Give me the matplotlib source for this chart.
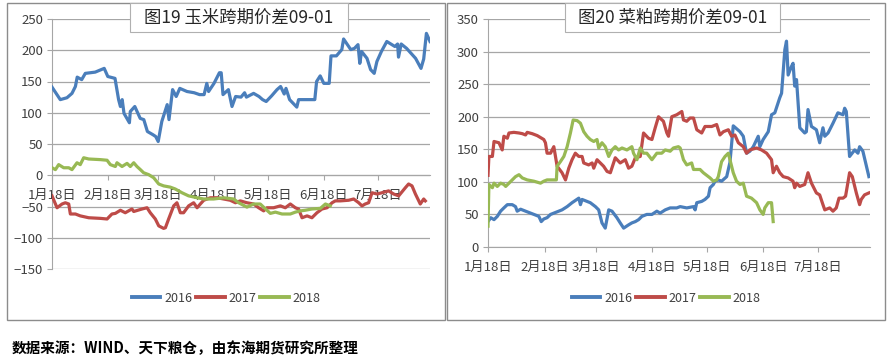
import matplotlib
matplotlib.use('Agg')
import matplotlib.pyplot as plt
from matplotlib.patches import Rectangle
from matplotlib.lines import Line2D

plt.rcParams['font.family'] = ['Noto Sans CJK SC', 'DejaVu Sans']

#%% data (x = days after Jan 18)
tick_days = [0, 31, 59, 90, 120, 151, 181]
tick_labels = ['1月18日', '2月18日', '3月18日', '4月18日', '5月18日', '6月18日', '7月18日']
years = ['2016', '2017', '2018']
colors = ['#4A7EBB', '#BE4B48', '#98B954']

# 图19 玉米
corn_2016_x = [0, 4.6, 8.3, 11.1, 13, 14, 16.5, 18.5, 24, 29, 31, 35, 37, 38, 39, 40, 43, 43.5, 46, 49,
               51, 53, 56, 57.6, 59, 61, 64, 65, 67, 69, 71, 75, 79, 82, 84.5, 86, 87, 90, 93, 94,
               95, 98, 100, 102, 105, 107, 108, 112, 115, 117, 119, 122, 125, 127, 129, 130, 132, 136, 137, 146,
               147, 149, 151, 154, 155, 158, 161, 162, 166, 168, 170, 171, 172, 175, 177, 179, 180.5, 183, 186, 190.5,
               192, 192.5, 194, 197, 202, 205, 206.5, 208, 210]
corn_2016_y = [141, 121, 124, 131, 142, 157, 153, 163, 165, 171, 158, 155, 121, 110, 121, 99, 84, 102, 110, 91,
               89, 70, 65, 62, 54, 86, 113, 89, 137, 126, 139, 134, 132, 129, 129, 147, 134, 147, 164, 164,
               129, 137, 110, 126, 125, 132, 125, 131, 126, 121, 118, 127, 137, 142, 130, 139, 121, 109, 121, 121,
               150, 159, 147, 147, 191, 191, 201, 218, 201, 203, 209, 179, 198, 187, 169, 163, 182, 198, 214, 206,
               210, 189, 210, 203, 187, 171, 186, 227, 214]

corn_2017_x = [0, 2.8, 5.6, 7.4, 9.3, 10.2, 13, 15.7, 20.4, 26.9, 30.6, 33.3, 35.2, 38, 40.7, 44.4, 45.4, 50, 52.8, 54.6,
               57.4, 59.3, 62, 63, 64.8, 67.6, 69.4, 71.3, 73.1, 75.9, 78.7, 80.6, 82.4, 84.3, 88, 91.7, 95.4, 99, 101.9, 104.6,
               108.3, 112, 114.8, 117.6, 119.4, 123.1, 126.9, 129.6, 132.4, 135.2, 137, 138.9, 141.7, 144.4, 147.2, 150, 152.8, 155.6, 157.4, 160.2,
               164.8, 167.6, 170.4, 172.2, 174, 175.9, 177.8, 180.6, 183.3, 187, 189.8, 192.6, 196.3, 198.1, 200, 201.9, 204.6, 206.5, 207.4]
corn_2017_y = [-33, -52, -46, -44, -46, -62, -62, -65, -68, -69, -70, -62, -61, -56, -60, -54, -58, -54, -52, -60,
               -70, -81, -85, -84, -70, -49, -44, -60, -60, -49, -44, -52, -46, -40, -36, -36, -38, -40, -44, -41,
               -44, -46, -52, -57, -52, -52, -49, -52, -46, -52, -54, -68, -65, -68, -60, -54, -52, -44, -41, -41,
               -40, -38, -44, -49, -46, -44, -28, -30, -28, -25, -30, -33, -20, -14, -17, -30, -46, -38, -41]

corn_2018_x = [0, 1.9, 3.7, 6.5, 9.3, 11.1, 13.9, 15.7, 17.6, 20.4, 26.9, 30.6, 32.4, 35.2, 36.1, 38.9, 41.7, 43.5, 45.4, 47.2,
               49.1, 50.9, 53.7, 56.5, 59.3, 62, 65.7, 68.5, 72.2, 75.9, 80.6, 84.3, 89.8, 95.4, 100.9, 103.7, 108.3, 112, 115.7, 119.4,
               121.3, 124.1, 127.8, 132.4, 135.2, 138, 140.7, 144.4, 149.1, 151.9, 154.6]
corn_2018_y = [12, 9, 17, 12, 12, 9, 20, 17, 28, 26, 25, 24, 17, 14, 20, 14, 19, 14, 20, 14,
               9, 4, 1, -4, -14, -17, -19, -22, -28, -33, -36, -38, -38, -36, -38, -44, -51, -46, -46, -56,
               -61, -59, -62, -62, -59, -57, -56, -54, -53, -46, -49]

# 图20 菜粕
meal_2016_x = [0, 1.5, 3.3, 5.1, 6.9, 8.7, 10.6, 13.3, 15.1, 16, 17.9, 20.6, 25.2, 27.9, 29.2, 30.6, 32.4, 34.3, 36.1, 38.8,
               40.6, 43.4, 46.1, 49.8, 50.7, 51.6, 54.3, 56.1, 58.9, 60.7, 62.5, 64.3, 66.2, 68, 70.7, 72.5, 74.4, 77.1, 78.9, 80.8,
               82.6, 84.4, 87.1, 89.9, 92.6, 94.4, 97.2, 99.9, 103.5, 105.4, 109, 112.7, 113.6, 114.5, 117.2, 119, 120.9, 121.8, 123.6, 124.5,
               126.3, 128.1, 130.9, 132.7, 134.5, 138.2, 140, 141.8, 143.6, 145.5, 148.2, 149.1, 150.9, 153.7, 155.5, 157.3, 160, 161, 162.8, 163.7,
               164.6, 166.4, 167.3, 168.2, 169.2, 171, 173.7, 174.6, 175.5, 177.4, 180.1, 181.9, 183.7, 184.7, 186.5, 189.2, 191.9, 194.7, 195.6, 196.5,
               198.3, 201.1, 202.9, 203.8, 205.6, 208.9]
meal_2016_y = [39, 45, 42, 47, 55, 60, 65, 65, 62, 55, 58, 55, 50, 47, 39, 43, 45, 50, 52, 55,
               57, 62, 68, 75, 65, 73, 70, 68, 62, 57, 37, 29, 57, 55, 45, 37, 29, 34, 37, 39,
               42, 47, 50, 50, 55, 52, 57, 60, 60, 62, 60, 62, 57, 68, 70, 73, 78, 91, 96, 101,
               103, 101, 108, 130, 186, 177, 170, 144, 147, 154, 170, 154, 165, 177, 203, 206, 229, 236, 303, 316,
               264, 277, 282, 247, 257, 183, 175, 177, 211, 185, 180, 160, 183, 170, 175, 190, 206, 203, 213, 208,
               139, 149, 144, 154, 147, 108]

meal_2017_x = [0, 0.5, 2.4, 3.3, 6, 7.8, 8.7, 10.6, 11.5, 14.2, 17, 18.8, 20.6, 21.5, 24.2, 27, 30.6, 31.5, 32.4, 34.3,
               36.1, 37.9, 40.6, 42.5, 44.3, 46.1, 47.9, 49.8, 51.6, 52.5, 55.2, 57.1, 58, 59.8, 63.4, 65.3, 67.1, 69.8, 72.5, 75.3,
               77.1, 78.9, 80.8, 83.5, 85.3, 88, 89.9, 91.7, 93.5, 96.2, 98.1, 99, 100.8, 103.5, 106.3, 107.2, 109, 110.8, 112.7, 114.5,
               117.2, 119, 122.7, 125.4, 127.2, 129.1, 131.8, 133.6, 135.4, 137.3, 140, 141.8, 143.6, 147.3, 150, 152.8, 155.5, 156.4, 158.2, 160,
               161.9, 164.6, 167.3, 168.2, 169.2, 171, 173.7, 175.5, 177.4, 180.1, 181.9, 183.7, 184.7, 187.4, 189.2, 191, 192.5, 194.7, 196.1, 198.3,
               199.8, 202, 203.8, 204.7, 206.5, 208.9]
meal_2017_y = [110, 139, 139, 162, 160, 149, 170, 167, 175, 176, 175, 174, 172, 176, 174, 171, 165, 160, 144, 144,
               154, 124, 114, 103, 121, 134, 144, 139, 139, 129, 126, 129, 121, 134, 124, 116, 114, 137, 129, 134,
               121, 124, 137, 139, 175, 167, 165, 183, 200, 193, 175, 170, 200, 203, 208, 195, 193, 198, 198, 180,
               175, 185, 185, 188, 172, 177, 180, 170, 172, 160, 154, 144, 149, 152, 149, 144, 134, 114, 124, 114,
               108, 106, 101, 91, 98, 93, 96, 114, 98, 83, 80, 65, 57, 60, 55, 60, 75, 75, 78, 114,
               108, 83, 65, 73, 80, 83]

meal_2018_x = [0, 0.5, 2.4, 3.3, 5.1, 6.9, 8.7, 9.7, 11.5, 13.3, 15.1, 17, 18.8, 21.5, 25.2, 28.8, 30.6, 32.4, 36.1, 37.5,
               37.9, 39.7, 41.6, 43.4, 45.2, 46.7, 48.9, 50.7, 52.5, 54.3, 56.1, 58, 59.8, 60.7, 62.5, 64.3, 66.2, 68, 69.8, 71.6,
               73.5, 76.2, 78.9, 79.8, 81.7, 83.5, 85.3, 87.1, 89.9, 92.6, 95.3, 97.2, 99.9, 101.7, 104.4, 105.4, 107.2, 109, 111.7, 112.7,
               116.3, 118.1, 121.8, 123.6, 125.4, 126.3, 128.1, 130, 131.8, 132.7, 134.5, 136.3, 138.2, 140, 141.8, 144.5, 147.3, 149.1, 150.9, 151.8,
               153.7, 155.5, 156.4]
meal_2018_y = [32, 96, 91, 98, 93, 98, 96, 93, 98, 103, 108, 111, 106, 103, 101, 98, 101, 103, 103, 103,
               124, 131, 139, 154, 175, 195, 194, 190, 177, 170, 165, 162, 165, 152, 160, 154, 139, 149, 154, 149,
               152, 149, 154, 144, 134, 152, 144, 144, 134, 144, 144, 149, 147, 152, 154, 152, 134, 126, 129, 119,
               119, 114, 106, 101, 103, 108, 131, 139, 144, 134, 114, 101, 96, 98, 78, 75, 68, 57, 50, 60,
               68, 68, 39]

source_text = '数据来源：WIND、天下粮仓，由东海期货研究所整理'

#%% layout helpers (pixel -> figure fraction)
W, H = 894, 362
def fx(px):
    return px / W
def fy(py):
    return 1 - py / H

fig = plt.figure(figsize=(8.94, 3.62), dpi=100)
fig.patch.set_facecolor('white')

# panel frames
for x0, x1 in [(7, 445), (447, 885)]:
    fig.patches.append(Rectangle((fx(x0), fy(320)), fx(x1) - fx(x0), fy(3) - fy(320),
                                 transform=fig.transFigure, fill=False, edgecolor='#8C8C8C', lw=1.0))

grid_c = '#A6A6A6'
txt_c = '#404040'

def setup(ax, ymin, ymax, xmax):
    ax.set_xlim(0, xmax)
    ax.set_ylim(ymin, ymax)
    ax.set_yticks(range(ymin, ymax + 1, 50))
    ax.grid(axis='y', color=grid_c, lw=0.9)
    ax.set_axisbelow(True)
    for s in ['top', 'right']:
        ax.spines[s].set_visible(False)
    ax.spines['left'].set_color(grid_c)
    ax.spines['bottom'].set_color(grid_c)
    ax.spines['bottom'].set_position(('data', 0))
    ax.set_xticks(tick_days)
    ax.set_xticklabels(tick_labels)
    ax.tick_params(axis='both', color=grid_c, labelcolor=txt_c, labelsize=9.5, length=3.5)
    ax.tick_params(axis='y', pad=3)
    ax.tick_params(axis='x', pad=6.5)
    for lab in ax.get_xticklabels() + ax.get_yticklabels():
        lab.set_zorder(1)

# left: corn
ax1 = fig.add_axes([fx(52), fy(269), fx(430) - fx(52), fy(19) - fy(269)])
setup(ax1, -150, 250, 210)
ax1.plot(corn_2016_x, corn_2016_y, color=colors[0], lw=2.3, zorder=3)
ax1.plot(corn_2017_x, corn_2017_y, color=colors[1], lw=2.3, zorder=3)
ax1.plot(corn_2018_x, corn_2018_y, color=colors[2], lw=2.3, zorder=3)

# right: rapeseed meal
ax2 = fig.add_axes([fx(488), fy(247), fx(870) - fx(488), fy(19) - fy(247)])
setup(ax2, 0, 350, 209.5)
ax2.plot(meal_2016_x, meal_2016_y, color=colors[0], lw=2.3, zorder=3)
ax2.plot(meal_2017_x, meal_2017_y, color=colors[1], lw=2.3, zorder=3)
ax2.plot(meal_2018_x, meal_2018_y, color=colors[2], lw=2.3, zorder=3)

# title boxes
for (x0, x1), title in [((130, 348), '图19 玉米跨期价差09-01'), ((565, 780), '图20 菜粕跨期价差09-01')]:
    fig.patches.append(Rectangle((fx(x0), fy(32)), fx(x1) - fx(x0), fy(3) - fy(32),
                                 transform=fig.transFigure, facecolor='white', edgecolor='#B0B0B0', lw=0.8,
                                 zorder=5))
    fig.text(fx((x0 + x1) / 2), fy(17.5), title, ha='center', va='center', fontsize=12.5,
             color='#262626', zorder=6)

# legends
handles = [Line2D([], [], color=c, lw=2.8) for c in colors]
for cx in [226, 666]:
    fig.legend(handles, years, loc='center', bbox_to_anchor=(fx(cx), fy(298)), ncol=3, frameon=False,
               fontsize=9, handlelength=2.3, handletextpad=0.3, columnspacing=0.3, labelcolor=txt_c)

# source note
fig.text(fx(12), fy(348), source_text, ha='left', va='center', fontsize=10.5, fontweight='bold', color='black')

fig.savefig('out.png', dpi=100)
